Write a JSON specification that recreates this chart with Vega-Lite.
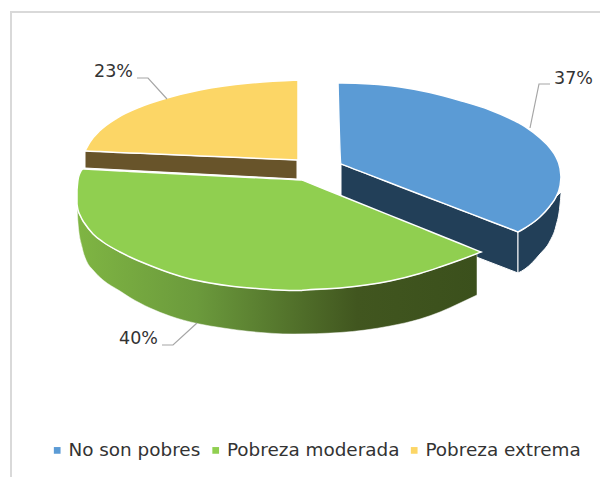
{
"$schema":"https://vega.github.io/schema/vega-lite/v6.json",
"width":600,"height":477,"padding":0,"autosize":"none","background":"white",
"config":{"view":{"stroke":null}},
"datasets":{
"faces":[
{"g":"No son pobres","x":338,"a":83,"b":83},{"g":"No son pobres","x":341,"a":83,"b":164},{"g":"No son pobres","x":342,"a":83,"b":164.4},{"g":"No son pobres","x":370,"a":84,"b":175.1},{"g":"No son pobres","x":400,"a":87,"b":186.7},{"g":"No son pobres","x":430,"a":92.5,"b":198.2},{"g":"No son pobres","x":460,"a":100.5,"b":209.7},{"g":"No son pobres","x":490,"a":110,"b":221.2},{"g":"No son pobres","x":510,"a":118.5,"b":228.9},{"g":"No son pobres","x":517,"a":122,"b":231.6},{"g":"No son pobres","x":518,"a":122.5,"b":232},{"g":"No son pobres","x":519,"a":123,"b":231.5},{"g":"No son pobres","x":525,"a":126.5,"b":228},{"g":"No son pobres","x":540,"a":138,"b":217},{"g":"No son pobres","x":550,"a":148,"b":206},{"g":"No son pobres","x":556,"a":157,"b":197},{"g":"No son pobres","x":560,"a":168,"b":186},{"g":"No son pobres","x":561,"a":177,"b":177},
{"g":"Pobreza moderada","x":77,"a":190,"b":204},{"g":"Pobreza moderada","x":78,"a":180,"b":210},{"g":"Pobreza moderada","x":80,"a":173,"b":215},{"g":"Pobreza moderada","x":83,"a":169,"b":221},{"g":"Pobreza moderada","x":84,"a":169.05,"b":222.5},{"g":"Pobreza moderada","x":93,"a":169.5,"b":234},{"g":"Pobreza moderada","x":103,"a":170,"b":242},{"g":"Pobreza moderada","x":120,"a":170.9,"b":252},{"g":"Pobreza moderada","x":130,"a":171.4,"b":257},{"g":"Pobreza moderada","x":150,"a":172.4,"b":265.5},{"g":"Pobreza moderada","x":170,"a":173.4,"b":273},{"g":"Pobreza moderada","x":190,"a":174.4,"b":279},{"g":"Pobreza moderada","x":210,"a":175.4,"b":283},{"g":"Pobreza moderada","x":230,"a":176.4,"b":286},{"g":"Pobreza moderada","x":250,"a":177.4,"b":288},{"g":"Pobreza moderada","x":270,"a":178.4,"b":289.5},{"g":"Pobreza moderada","x":293,"a":179.5,"b":290.5},{"g":"Pobreza moderada","x":301,"a":179.95,"b":290.5},{"g":"Pobreza moderada","x":302,"a":180,"b":290.4},{"g":"Pobreza moderada","x":303,"a":180.4,"b":290.3},{"g":"Pobreza moderada","x":340,"a":195.3,"b":288},{"g":"Pobreza moderada","x":390,"a":215.4,"b":281},{"g":"Pobreza moderada","x":420,"a":227.4,"b":273.5},{"g":"Pobreza moderada","x":440,"a":235.5,"b":267},{"g":"Pobreza moderada","x":460,"a":243.5,"b":260},{"g":"Pobreza moderada","x":480,"a":251.6,"b":252.4},{"g":"Pobreza moderada","x":481,"a":252,"b":252},
{"g":"Pobreza extrema","x":85,"a":151,"b":151},{"g":"Pobreza extrema","x":90,"a":142,"b":151.2},{"g":"Pobreza extrema","x":100,"a":130.5,"b":151.6},{"g":"Pobreza extrema","x":117,"a":118,"b":152.4},{"g":"Pobreza extrema","x":140,"a":107,"b":153.3},{"g":"Pobreza extrema","x":167,"a":98,"b":154.5},{"g":"Pobreza extrema","x":200,"a":90,"b":155.9},{"g":"Pobreza extrema","x":250,"a":83,"b":158},{"g":"Pobreza extrema","x":298,"a":80,"b":160}
],
"sides":[
{"part":"corte azul","x":341,"a":164,"b":205},{"part":"corte azul","x":518,"a":232,"b":273},
{"part":"borde azul","x":518,"a":232,"b":273},{"part":"borde azul","x":525,"a":228,"b":269},{"part":"borde azul","x":540,"a":217,"b":254},{"part":"borde azul","x":550,"a":206,"b":241},{"part":"borde azul","x":556,"a":197,"b":226},{"part":"borde azul","x":560,"a":193,"b":205},{"part":"borde azul","x":561,"a":192,"b":194},
{"part":"corte amarillo","x":85,"a":151,"b":168},{"part":"corte amarillo","x":297,"a":160,"b":179}
],
"rim":[
{"x":77,"a":204,"b":206},{"x":78,"a":210,"b":223},{"x":82,"a":219,"b":247},{"x":87,"a":227,"b":262},{"x":93,"a":234,"b":270},{"x":103,"a":242,"b":280},{"x":120,"a":252,"b":291},{"x":130,"a":257,"b":297.5},{"x":150,"a":265.5,"b":308},{"x":170,"a":273,"b":316},{"x":197,"a":280.4,"b":323.5},{"x":223,"a":285,"b":328},{"x":250,"a":288,"b":331.5},{"x":293,"a":290.5,"b":334},{"x":340,"a":288,"b":332.5},{"x":390,"a":281,"b":326},{"x":420,"a":273.5,"b":319},{"x":440,"a":267,"b":312},{"x":460,"a":260,"b":303},{"x":477,"a":253.5,"b":295}
],
"labels":[
{"g":"No son pobres","share":0.37,"x":554,"y":79},
{"g":"Pobreza moderada","share":0.40,"x":119,"y":339},
{"g":"Pobreza extrema","share":0.23,"x":94,"y":72}
],
"leaders":[
{"g":"No son pobres","x":530,"y":128},{"g":"No son pobres","x":539,"y":84},{"g":"No son pobres","x":550,"y":84},
{"g":"Pobreza moderada","x":162,"y":345},{"g":"Pobreza moderada","x":173,"y":345},{"g":"Pobreza moderada","x":197,"y":323},
{"g":"Pobreza extrema","x":137,"y":78},{"g":"Pobreza extrema","x":148,"y":78},{"g":"Pobreza extrema","x":167,"y":99}
],
"frame":[{"s":1,"x":11,"y":477},{"s":2,"x":11,"y":12},{"s":3,"x":600,"y":12}]
},
"encoding":{
"x":{"field":"x","type":"quantitative","scale":{"domain":[0,600],"nice":false,"zero":false},"axis":null},
"y":{"field":"a","type":"quantitative","scale":{"domain":[477,0],"nice":false,"zero":false},"axis":null}
},
"layer":[
{"data":{"name":"frame"},"mark":{"type":"line","color":"#d9d9d9","strokeWidth":2},
 "encoding":{"y":{"field":"y","type":"quantitative"},"order":{"field":"s"}}},
{"data":{"name":"sides"},"transform":[{"filter":"datum.part!='corte amarillo'"}],"mark":{"type":"area","fill":"#223f58","stroke":"white","strokeWidth":1,"interpolate":"monotone"},
 "encoding":{"y2":{"field":"b"},"detail":{"field":"part"}}},
{"data":{"name":"sides"},"transform":[{"filter":"datum.part=='corte amarillo'"}],"mark":{"type":"area","fill":"#68542a","stroke":"white","strokeWidth":1},
 "encoding":{"y2":{"field":"b"}}},
{"data":{"name":"rim"},"mark":{"type":"area","interpolate":"monotone","stroke":"white","strokeWidth":0.5,
  "fill":{"gradient":"linear","x1":0,"y1":0,"x2":1,"y2":0,"stops":[{"offset":0,"color":"#7fb543"},{"offset":0.3,"color":"#6b9a3c"},{"offset":0.7,"color":"#41561f"},{"offset":1,"color":"#3b501c"}]}},
 "encoding":{"y2":{"field":"b"}}},
{"data":{"name":"faces"},"mark":{"type":"area","stroke":"white","strokeWidth":1.5,"interpolate":"monotone"},
 "encoding":{"y2":{"field":"b"},
  "color":{"field":"g","type":"nominal","scale":{"domain":["No son pobres","Pobreza moderada","Pobreza extrema"],"range":["#5b9bd5","#90cf50","#fcd666"]},
   "legend":{"title":null,"orient":"none","legendX":48,"legendY":441,"direction":"horizontal","symbolType":"square","symbolSize":45,"symbolStrokeWidth":0,"labelFont":"DejaVu Sans","labelFontSize":18.4,"labelLimit":300,"labelColor":"#333333","columnPadding":5.5,"symbolOffset":0,"labelOffset":2}}}},
{"data":{"name":"leaders"},"mark":{"type":"line","color":"#a6a6a6","strokeWidth":1.2},
 "encoding":{"y":{"field":"y","type":"quantitative"},"detail":{"field":"g"}}},
{"data":{"name":"labels"},"mark":{"type":"text","align":"left","baseline":"middle","font":"DejaVu Sans","fontSize":17.5,"color":"#333333"},
 "encoding":{"y":{"field":"y","type":"quantitative"},"text":{"field":"share","type":"quantitative","format":".0%"}}}
]
}
